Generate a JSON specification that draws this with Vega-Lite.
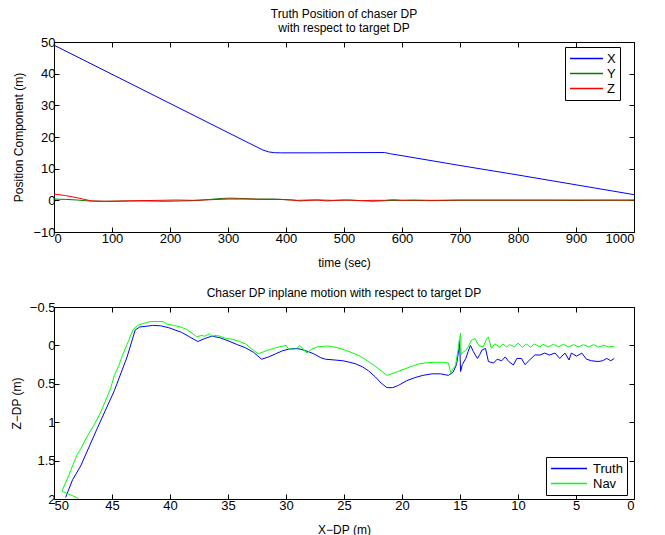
{
  "$schema": "https://vega.github.io/schema/vega-lite/v6.json",
  "padding": {"left": 10, "top": 7, "right": 26, "bottom": 2},
  "background": "white",
  "config": {
    "font": "Liberation Sans",
    "view": {"stroke": "black", "strokeWidth": 1},
    "axis": {
      "domain": false, "grid": false, "tickSize": -5, "tickColor": "black", "tickWidth": 1,
      "labelFont": "Liberation Sans", "labelFontSize": 13, "labelColor": "black", "labelPadding": 4,
      "titleFont": "Liberation Sans", "titleFontSize": 12, "titleFontWeight": "normal", "titleColor": "black"
    },
    "title": {"font": "Liberation Sans", "fontSize": 12, "fontWeight": "normal", "color": "black", "anchor": "middle", "lineHeight": 14},
    "legend": {
      "orient": "none", "direction": "vertical", "symbolType": "stroke", "symbolSize": 1089, "symbolStrokeWidth": 1.5,
      "labelFont": "Liberation Sans", "labelFontSize": 13, "labelColor": "black", "strokeColor": "black", "fillColor": "white",
      "padding": 4, "clipHeight": 15, "rowPadding": 0, "labelOffset": 3
    }
  },
  "datasets": {
    "truthpos": [
      {"t":0,"v":49,"s":"X"},{"t":100,"v":39.8,"s":"X"},{"t":200,"v":30.6,"s":"X"},{"t":300,"v":21.4,"s":"X"},{"t":360,"v":15.9,"s":"X"},{"t":370,"v":15.3,"s":"X"},{"t":380,"v":15.05,"s":"X"},{"t":390,"v":15.0,"s":"X"},{"t":450,"v":15.0,"s":"X"},{"t":500,"v":15.05,"s":"X"},{"t":570,"v":15.1,"s":"X"},{"t":580,"v":14.7,"s":"X"},{"t":600,"v":14.1,"s":"X"},{"t":700,"v":11.0,"s":"X"},{"t":800,"v":8.0,"s":"X"},{"t":900,"v":4.9,"s":"X"},{"t":1000,"v":1.8,"s":"X"},
      {"t":0,"v":0.4,"s":"Y"},{"t":20,"v":0.3,"s":"Y"},{"t":40,"v":0.1,"s":"Y"},{"t":60,"v":-0.2,"s":"Y"},{"t":80,"v":-0.3,"s":"Y"},{"t":100,"v":-0.3,"s":"Y"},{"t":130,"v":-0.2,"s":"Y"},{"t":160,"v":-0.2,"s":"Y"},{"t":190,"v":-0.3,"s":"Y"},{"t":220,"v":-0.2,"s":"Y"},{"t":250,"v":0.0,"s":"Y"},{"t":270,"v":0.3,"s":"Y"},{"t":290,"v":0.6,"s":"Y"},{"t":305,"v":0.7,"s":"Y"},{"t":320,"v":0.6,"s":"Y"},{"t":350,"v":0.4,"s":"Y"},{"t":380,"v":0.4,"s":"Y"},{"t":400,"v":0.2,"s":"Y"},{"t":420,"v":0.0,"s":"Y"},{"t":440,"v":0.1,"s":"Y"},{"t":460,"v":0.1,"s":"Y"},{"t":480,"v":0.0,"s":"Y"},{"t":500,"v":0.1,"s":"Y"},{"t":530,"v":-0.1,"s":"Y"},{"t":550,"v":-0.3,"s":"Y"},{"t":570,"v":-0.1,"s":"Y"},{"t":600,"v":0.0,"s":"Y"},{"t":650,"v":-0.1,"s":"Y"},{"t":700,"v":0.0,"s":"Y"},{"t":750,"v":0.0,"s":"Y"},{"t":800,"v":0.0,"s":"Y"},{"t":850,"v":0.0,"s":"Y"},{"t":900,"v":-0.05,"s":"Y"},{"t":950,"v":0.0,"s":"Y"},{"t":1000,"v":0.0,"s":"Y"},
      {"t":0,"v":2.0,"s":"Z"},{"t":20,"v":1.5,"s":"Z"},{"t":40,"v":0.8,"s":"Z"},{"t":65,"v":-0.2,"s":"Z"},{"t":90,"v":-0.3,"s":"Z"},{"t":120,"v":-0.2,"s":"Z"},{"t":150,"v":-0.1,"s":"Z"},{"t":180,"v":0.0,"s":"Z"},{"t":210,"v":0.1,"s":"Z"},{"t":240,"v":0.0,"s":"Z"},{"t":270,"v":0.2,"s":"Z"},{"t":300,"v":0.4,"s":"Z"},{"t":330,"v":0.4,"s":"Z"},{"t":360,"v":0.3,"s":"Z"},{"t":390,"v":0.3,"s":"Z"},{"t":410,"v":0.1,"s":"Z"},{"t":425,"v":-0.2,"s":"Z"},{"t":440,"v":0.0,"s":"Z"},{"t":455,"v":0.1,"s":"Z"},{"t":470,"v":-0.2,"s":"Z"},{"t":490,"v":0.0,"s":"Z"},{"t":510,"v":0.1,"s":"Z"},{"t":530,"v":-0.1,"s":"Z"},{"t":550,"v":0.0,"s":"Z"},{"t":570,"v":0.0,"s":"Z"},{"t":585,"v":0.2,"s":"Z"},{"t":600,"v":0.0,"s":"Z"},{"t":620,"v":0.1,"s":"Z"},{"t":650,"v":0.0,"s":"Z"},{"t":700,"v":0.1,"s":"Z"},{"t":750,"v":0.1,"s":"Z"},{"t":800,"v":0.1,"s":"Z"},{"t":850,"v":0.1,"s":"Z"},{"t":900,"v":0.1,"s":"Z"},{"t":950,"v":0.1,"s":"Z"},{"t":1000,"v":0.1,"s":"Z"}
    ],
    "inplane": [
      {"s":"Truth","i":1,"x":49.0,"z":1.98},{"s":"Truth","i":2,"x":48.4,"z":1.75},{"s":"Truth","i":3,"x":47.7,"z":1.57},{"s":"Truth","i":4,"x":46.3,"z":1.09},{"s":"Truth","i":5,"x":44.8,"z":0.59},{"s":"Truth","i":6,"x":43.7,"z":0.15},{"s":"Truth","i":7,"x":43.0,"z":-0.2},{"s":"Truth","i":8,"x":42.6,"z":-0.24},{"s":"Truth","i":9,"x":42.0,"z":-0.25},{"s":"Truth","i":10,"x":41.5,"z":-0.26},{"s":"Truth","i":11,"x":40.8,"z":-0.255},{"s":"Truth","i":12,"x":40.1,"z":-0.23},{"s":"Truth","i":13,"x":39.0,"z":-0.17},{"s":"Truth","i":14,"x":38.3,"z":-0.11},{"s":"Truth","i":15,"x":37.6,"z":-0.05},{"s":"Truth","i":16,"x":37.0,"z":-0.09},{"s":"Truth","i":17,"x":36.4,"z":-0.12},{"s":"Truth","i":18,"x":35.7,"z":-0.1},{"s":"Truth","i":19,"x":35.0,"z":-0.06},{"s":"Truth","i":20,"x":34.2,"z":-0.01},{"s":"Truth","i":21,"x":33.5,"z":0.03},{"s":"Truth","i":22,"x":32.8,"z":0.09},{"s":"Truth","i":23,"x":32.1,"z":0.18},{"s":"Truth","i":24,"x":31.5,"z":0.15},{"s":"Truth","i":25,"x":30.9,"z":0.11},{"s":"Truth","i":26,"x":30.3,"z":0.07},{"s":"Truth","i":27,"x":29.8,"z":0.05},{"s":"Truth","i":28,"x":29.2,"z":0.04},{"s":"Truth","i":29,"x":28.7,"z":0.05},{"s":"Truth","i":30,"x":28.1,"z":0.08},{"s":"Truth","i":31,"x":27.6,"z":0.11},{"s":"Truth","i":32,"x":27.0,"z":0.16},{"s":"Truth","i":33,"x":26.6,"z":0.18},{"s":"Truth","i":34,"x":25.8,"z":0.19},{"s":"Truth","i":35,"x":25.1,"z":0.2},{"s":"Truth","i":36,"x":24.5,"z":0.22},{"s":"Truth","i":37,"x":24.0,"z":0.24},{"s":"Truth","i":38,"x":23.4,"z":0.28},{"s":"Truth","i":39,"x":22.9,"z":0.33},{"s":"Truth","i":40,"x":22.3,"z":0.41},{"s":"Truth","i":41,"x":21.8,"z":0.49},{"s":"Truth","i":42,"x":21.3,"z":0.55},{"s":"Truth","i":43,"x":20.8,"z":0.55},{"s":"Truth","i":44,"x":20.3,"z":0.52},{"s":"Truth","i":45,"x":19.6,"z":0.46},{"s":"Truth","i":46,"x":18.9,"z":0.42},{"s":"Truth","i":47,"x":18.2,"z":0.39},{"s":"Truth","i":48,"x":17.4,"z":0.37},{"s":"Truth","i":49,"x":16.7,"z":0.37},{"s":"Truth","i":50,"x":16.0,"z":0.39},{"s":"Truth","i":51,"x":15.6,"z":0.35},{"s":"Truth","i":52,"x":15.3,"z":0.25},{"s":"Truth","i":53,"x":15.1,"z":0.05},{"s":"Truth","i":54,"x":15.05,"z":-0.07},{"s":"Truth","i":55,"x":15.0,"z":0.1},{"s":"Truth","i":56,"x":14.95,"z":0.34},{"s":"Truth","i":57,"x":14.8,"z":0.25},{"s":"Truth","i":58,"x":14.5,"z":0.17},{"s":"Truth","i":59,"x":14.3,"z":0.08},{"s":"Truth","i":60,"x":14.1,"z":0.0},{"s":"Truth","i":61,"x":13.85,"z":0.08},{"s":"Truth","i":62,"x":13.5,"z":0.17},{"s":"Truth","i":63,"x":13.3,"z":0.12},{"s":"Truth","i":64,"x":13.1,"z":0.06},{"s":"Truth","i":65,"x":12.8,"z":0.04},{"s":"Truth","i":66,"x":12.55,"z":0.21},{"s":"Truth","i":67,"x":12.1,"z":0.23},{"s":"Truth","i":68,"x":11.8,"z":0.18},{"s":"Truth","i":69,"x":11.4,"z":0.2},{"s":"Truth","i":70,"x":11.1,"z":0.15},{"s":"Truth","i":71,"x":10.8,"z":0.21},{"s":"Truth","i":72,"x":10.4,"z":0.255},{"s":"Truth","i":73,"x":10.1,"z":0.17},{"s":"Truth","i":74,"x":9.7,"z":0.17},{"s":"Truth","i":75,"x":9.4,"z":0.25},{"s":"Truth","i":76,"x":9.0,"z":0.19},{"s":"Truth","i":77,"x":8.55,"z":0.125},{"s":"Truth","i":78,"x":8.1,"z":0.125},{"s":"Truth","i":79,"x":7.7,"z":0.1},{"s":"Truth","i":80,"x":7.3,"z":0.125},{"s":"Truth","i":81,"x":6.8,"z":0.1},{"s":"Truth","i":82,"x":6.4,"z":0.17},{"s":"Truth","i":83,"x":5.95,"z":0.1},{"s":"Truth","i":84,"x":5.6,"z":0.19},{"s":"Truth","i":85,"x":5.4,"z":0.1},{"s":"Truth","i":86,"x":4.95,"z":0.14},{"s":"Truth","i":87,"x":4.5,"z":0.1},{"s":"Truth","i":88,"x":4.1,"z":0.18},{"s":"Truth","i":89,"x":3.65,"z":0.2},{"s":"Truth","i":90,"x":3.1,"z":0.21},{"s":"Truth","i":91,"x":2.7,"z":0.2},{"s":"Truth","i":92,"x":2.35,"z":0.17},{"s":"Truth","i":93,"x":2.0,"z":0.2},{"s":"Truth","i":94,"x":1.7,"z":0.17},
      {"s":"Nav","i":1,"x":47.9,"z":1.99},{"s":"Nav","i":2,"x":49.3,"z":1.9},{"s":"Nav","i":3,"x":49.1,"z":1.82},{"s":"Nav","i":4,"x":48.8,"z":1.72},{"s":"Nav","i":5,"x":48.3,"z":1.53},{"s":"Nav","i":6,"x":48.0,"z":1.42},{"s":"Nav","i":7,"x":47.7,"z":1.35},{"s":"Nav","i":8,"x":47.2,"z":1.2},{"s":"Nav","i":9,"x":46.6,"z":1.05},{"s":"Nav","i":10,"x":46.0,"z":0.88},{"s":"Nav","i":11,"x":45.5,"z":0.7},{"s":"Nav","i":12,"x":45.1,"z":0.55},{"s":"Nav","i":13,"x":44.8,"z":0.39},{"s":"Nav","i":14,"x":44.4,"z":0.26},{"s":"Nav","i":15,"x":44.1,"z":0.13},{"s":"Nav","i":16,"x":43.6,"z":-0.05},{"s":"Nav","i":17,"x":43.2,"z":-0.2},{"s":"Nav","i":18,"x":42.8,"z":-0.26},{"s":"Nav","i":19,"x":42.4,"z":-0.28},{"s":"Nav","i":20,"x":41.7,"z":-0.31},{"s":"Nav","i":21,"x":41.0,"z":-0.31},{"s":"Nav","i":22,"x":40.6,"z":-0.31},{"s":"Nav","i":23,"x":40.3,"z":-0.28},{"s":"Nav","i":24,"x":39.7,"z":-0.26},{"s":"Nav","i":25,"x":39.1,"z":-0.24},{"s":"Nav","i":26,"x":38.6,"z":-0.21},{"s":"Nav","i":27,"x":38.1,"z":-0.16},{"s":"Nav","i":28,"x":37.7,"z":-0.11},{"s":"Nav","i":29,"x":37.3,"z":-0.13},{"s":"Nav","i":30,"x":37.0,"z":-0.12},{"s":"Nav","i":31,"x":36.6,"z":-0.15},{"s":"Nav","i":32,"x":36.4,"z":-0.12},{"s":"Nav","i":33,"x":36.0,"z":-0.13},{"s":"Nav","i":34,"x":35.7,"z":-0.12},{"s":"Nav","i":35,"x":35.2,"z":-0.09},{"s":"Nav","i":36,"x":34.6,"z":-0.08},{"s":"Nav","i":37,"x":34.0,"z":-0.05},{"s":"Nav","i":38,"x":33.5,"z":-0.02},{"s":"Nav","i":39,"x":33.0,"z":0.04},{"s":"Nav","i":40,"x":32.4,"z":0.11},{"s":"Nav","i":41,"x":31.7,"z":0.07},{"s":"Nav","i":42,"x":31.1,"z":0.04},{"s":"Nav","i":43,"x":30.6,"z":0.02},{"s":"Nav","i":44,"x":30.0,"z":0.0},{"s":"Nav","i":45,"x":29.8,"z":0.045},{"s":"Nav","i":46,"x":29.4,"z":0.05},{"s":"Nav","i":47,"x":29.1,"z":0.045},{"s":"Nav","i":48,"x":28.8,"z":0.0},{"s":"Nav","i":49,"x":28.5,"z":0.05},{"s":"Nav","i":50,"x":28.2,"z":0.1},{"s":"Nav","i":51,"x":27.8,"z":0.05},{"s":"Nav","i":52,"x":27.3,"z":0.02},{"s":"Nav","i":53,"x":26.7,"z":0.01},{"s":"Nav","i":54,"x":26.2,"z":0.01},{"s":"Nav","i":55,"x":25.6,"z":0.03},{"s":"Nav","i":56,"x":25.1,"z":0.05},{"s":"Nav","i":57,"x":24.4,"z":0.09},{"s":"Nav","i":58,"x":23.6,"z":0.14},{"s":"Nav","i":59,"x":23.0,"z":0.2},{"s":"Nav","i":60,"x":22.4,"z":0.26},{"s":"Nav","i":61,"x":21.8,"z":0.33},{"s":"Nav","i":62,"x":21.3,"z":0.39},{"s":"Nav","i":63,"x":20.7,"z":0.36},{"s":"Nav","i":64,"x":20.0,"z":0.32},{"s":"Nav","i":65,"x":19.3,"z":0.28},{"s":"Nav","i":66,"x":18.5,"z":0.24},{"s":"Nav","i":67,"x":17.8,"z":0.225},{"s":"Nav","i":68,"x":17.1,"z":0.22},{"s":"Nav","i":69,"x":16.5,"z":0.22},{"s":"Nav","i":70,"x":16.0,"z":0.23},{"s":"Nav","i":71,"x":15.8,"z":0.355},{"s":"Nav","i":72,"x":15.6,"z":0.3},{"s":"Nav","i":73,"x":15.4,"z":0.27},{"s":"Nav","i":74,"x":15.1,"z":0.0},{"s":"Nav","i":75,"x":14.95,"z":-0.16},{"s":"Nav","i":76,"x":14.9,"z":0.12},{"s":"Nav","i":77,"x":14.7,"z":0.08},{"s":"Nav","i":78,"x":14.5,"z":0.07},{"s":"Nav","i":79,"x":14.3,"z":0.02},{"s":"Nav","i":80,"x":14.0,"z":-0.07},{"s":"Nav","i":81,"x":13.7,"z":-0.09},{"s":"Nav","i":82,"x":13.4,"z":0.0},{"s":"Nav","i":83,"x":13.0,"z":0.02},{"s":"Nav","i":84,"x":12.7,"z":-0.09},{"s":"Nav","i":85,"x":12.55,"z":-0.11},{"s":"Nav","i":86,"x":12.3,"z":0.04},{"s":"Nav","i":87,"x":12.0,"z":-0.02},{"s":"Nav","i":88,"x":11.55,"z":0.025},{"s":"Nav","i":89,"x":11.3,"z":-0.02},{"s":"Nav","i":90,"x":11.0,"z":0.02},{"s":"Nav","i":91,"x":10.7,"z":-0.01},{"s":"Nav","i":92,"x":10.3,"z":0.02},{"s":"Nav","i":93,"x":10.0,"z":-0.03},{"s":"Nav","i":94,"x":9.6,"z":0.025},{"s":"Nav","i":95,"x":9.3,"z":-0.02},{"s":"Nav","i":96,"x":8.9,"z":0.025},{"s":"Nav","i":97,"x":8.6,"z":-0.02},{"s":"Nav","i":98,"x":8.1,"z":0.02},{"s":"Nav","i":99,"x":7.85,"z":-0.015},{"s":"Nav","i":100,"x":7.4,"z":0.02},{"s":"Nav","i":101,"x":6.95,"z":-0.015},{"s":"Nav","i":102,"x":6.5,"z":0.02},{"s":"Nav","i":103,"x":6.1,"z":-0.015},{"s":"Nav","i":104,"x":5.65,"z":0.02},{"s":"Nav","i":105,"x":5.2,"z":-0.01},{"s":"Nav","i":106,"x":4.8,"z":0.02},{"s":"Nav","i":107,"x":4.35,"z":-0.01},{"s":"Nav","i":108,"x":3.9,"z":0.02},{"s":"Nav","i":109,"x":3.5,"z":-0.01},{"s":"Nav","i":110,"x":3.05,"z":0.02},{"s":"Nav","i":111,"x":2.6,"z":0.0},{"s":"Nav","i":112,"x":2.2,"z":0.02},{"s":"Nav","i":113,"x":1.7,"z":0.01}
    ]
  },
  "spacing": 17,
  "resolve": {"scale": {"color": "independent"}, "legend": {"color": "independent"}},
  "vconcat": [
    {
      "width": 580, "height": 190,
      "title": {"text": ["Truth Position of chaser DP", "with respect to target DP"], "offset": 1},
      "data": {"name": "truthpos"},
      "resolve": {"axis": {"x": "independent", "y": "independent"}},
      "layer": [
        {
          "mark": {"type": "line", "strokeWidth": 1, "clip": true},
          "encoding": {
            "x": {"field": "t", "type": "quantitative", "scale": {"domain": [0, 1000], "nice": false, "zero": false},
                  "axis": {"title": "time (sec)", "values": [0,100,200,300,400,500,600,700,800,900,1000], "format": "~r", "titlePadding": 12, "labelPadding": 5}},
            "y": {"field": "v", "type": "quantitative", "scale": {"domain": [-10, 50], "nice": false, "zero": false},
                  "axis": {"title": "Position Component (m)", "values": [-10,0,10,20,30,40,50], "format": "~r", "titlePadding": 7}},
            "color": {"field": "s", "type": "nominal", "scale": {"domain": ["X","Y","Z"], "range": ["#0000ff","#008000","#ff0000"]},
                      "legend": {"title": null, "legendX": 511, "legendY": 5}},
            "order": {"field": "t", "type": "quantitative"}
          }
        },
        {
          "mark": {"type": "line", "opacity": 0},
          "encoding": {
            "x": {"field": "t", "type": "quantitative", "axis": {"orient": "top", "labels": false, "title": null, "values": [0,100,200,300,400,500,600,700,800,900,1000]}},
            "y": {"field": "v", "type": "quantitative", "axis": {"orient": "right", "labels": false, "title": null, "values": [-10,0,10,20,30,40,50]}}
          }
        }
      ]
    },
    {
      "width": 580, "height": 192,
      "title": {"text": "Chaser DP inplane motion with respect to target DP", "offset": 1},
      "data": {"name": "inplane"},
      "resolve": {"axis": {"x": "independent", "y": "independent"}},
      "layer": [
        {
          "mark": {"type": "line", "strokeWidth": 1, "clip": true},
          "encoding": {
            "x": {"field": "x", "type": "quantitative", "scale": {"domain": [0, 50], "reverse": true, "nice": false, "zero": false},
                  "axis": {"title": "X−DP (m)", "values": [0,5,10,15,20,25,30,35,40,45,50], "format": "~r", "titlePadding": 12, "labelPadding": 5}},
            "y": {"field": "z", "type": "quantitative", "scale": {"domain": [-0.5, 2], "reverse": true, "nice": false, "zero": false},
                  "axis": {"title": "Z−DP (m)", "values": [-0.5,0,0.5,1,1.5,2], "format": "~r", "titlePadding": 5.5}},
            "color": {"field": "s", "type": "nominal", "scale": {"domain": ["Truth","Nav"], "range": ["#0000ff","#00ff00"]},
                      "legend": {"title": null, "legendX": 492, "legendY": 150, "symbolSize": 1296, "labelOffset": 5}},
            "order": {"field": "i", "type": "quantitative"}
          }
        },
        {
          "mark": {"type": "line", "opacity": 0},
          "encoding": {
            "x": {"field": "x", "type": "quantitative", "axis": {"orient": "top", "labels": false, "title": null, "values": [0,5,10,15,20,25,30,35,40,45,50]}},
            "y": {"field": "z", "type": "quantitative", "axis": {"orient": "right", "labels": false, "title": null, "values": [-0.5,0,0.5,1,1.5,2]}}
          }
        }
      ]
    }
  ]
}
